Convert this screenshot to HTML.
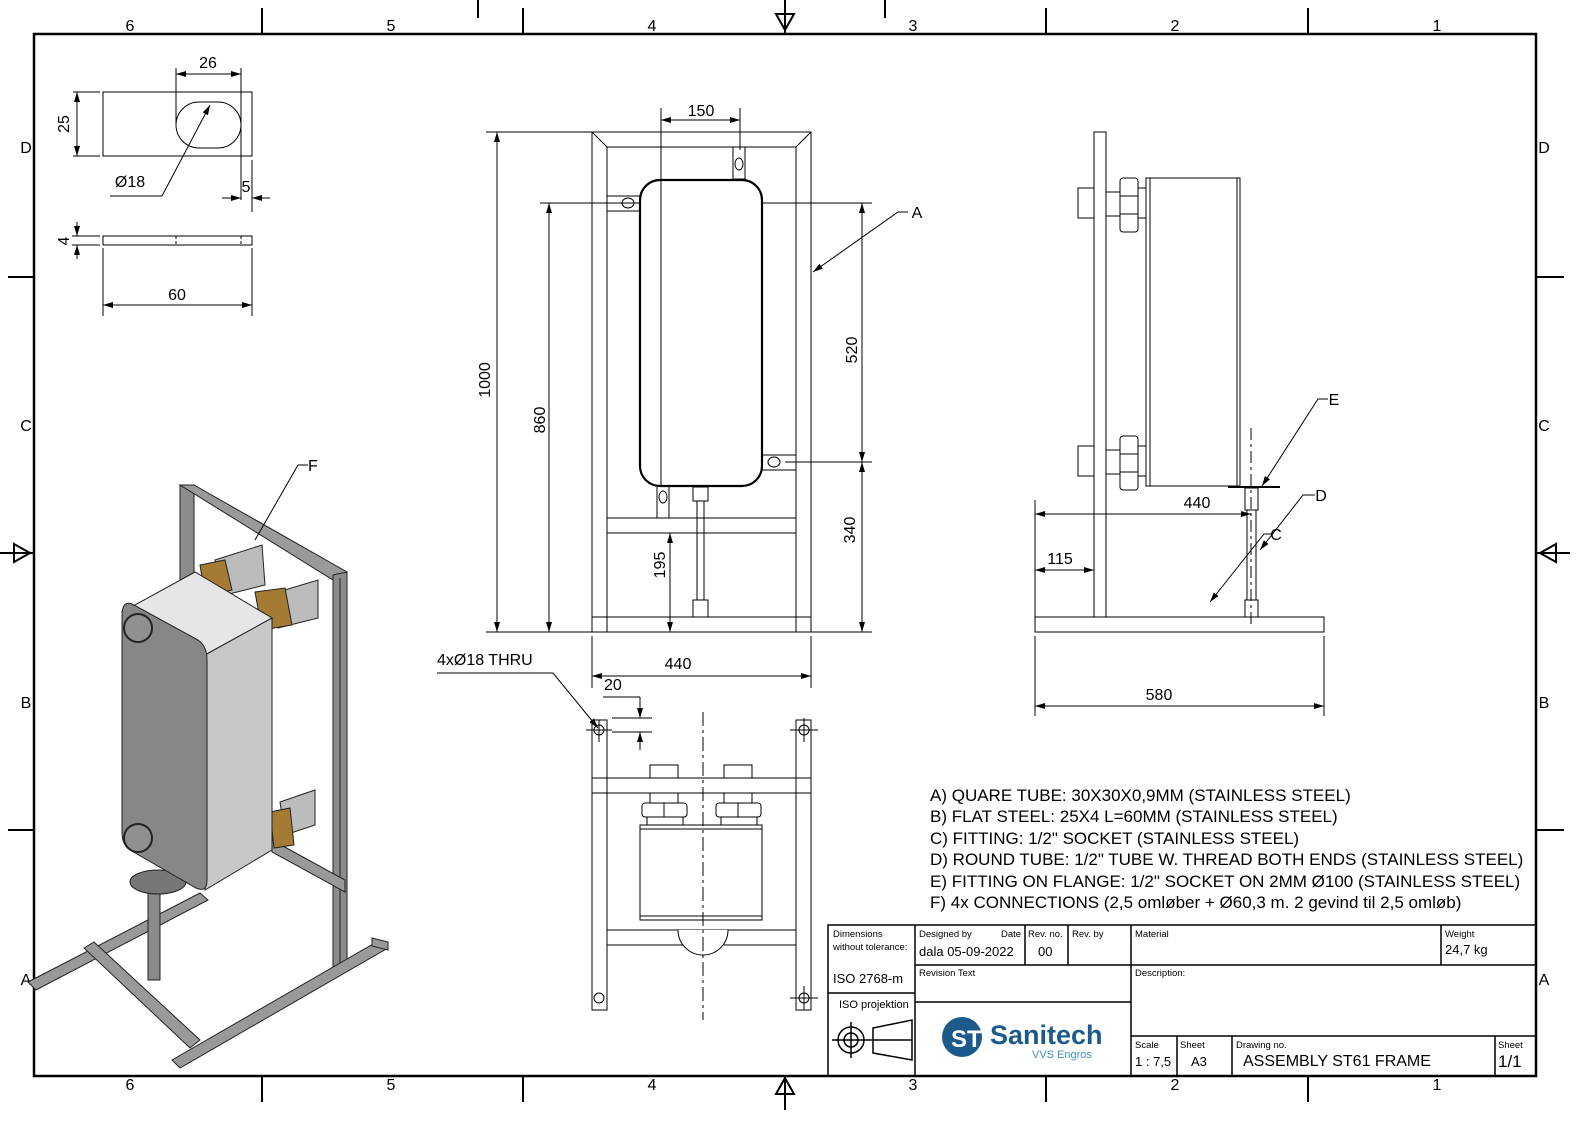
<!DOCTYPE html>
<html><head><meta charset="utf-8"><style>
html,body{margin:0;padding:0;background:#fff}
svg{display:block}
text{font-family:"Liberation Sans",sans-serif;fill:#000}
</style></head><body>
<svg width="1586" height="1122" viewBox="0 0 1586 1122" xmlns="http://www.w3.org/2000/svg">
<defs>
<marker id="ar" viewBox="0 0 10 6" refX="10" refY="3" markerWidth="10" markerHeight="6" orient="auto-start-reverse" markerUnits="userSpaceOnUse"><path d="M0,0 L10,3 L0,6z" fill="#000"/></marker>
</defs>
<rect width="1586" height="1122" fill="#fff"/>
<!-- border -->
<rect x="34" y="34" width="1502" height="1042" fill="none" stroke="#000" stroke-width="2.5"/>
<g stroke="#000" stroke-width="2">
<line x1="262" y1="8" x2="262" y2="34"/><line x1="523" y1="8" x2="523" y2="34"/><line x1="1046" y1="8" x2="1046" y2="34"/><line x1="1308" y1="8" x2="1308" y2="34"/>
<line x1="478" y1="0" x2="478" y2="18"/><line x1="885" y1="0" x2="885" y2="18"/>
<line x1="785" y1="0" x2="785" y2="34"/>
<line x1="262" y1="1076" x2="262" y2="1102"/><line x1="523" y1="1076" x2="523" y2="1102"/><line x1="1046" y1="1076" x2="1046" y2="1102"/><line x1="1308" y1="1076" x2="1308" y2="1102"/>
<line x1="785" y1="1076" x2="785" y2="1110"/>
<line x1="8" y1="277" x2="34" y2="277"/><line x1="8" y1="830" x2="34" y2="830"/><line x1="0" y1="553" x2="34" y2="553"/>
<line x1="1536" y1="277" x2="1564" y2="277"/><line x1="1536" y1="830" x2="1564" y2="830"/><line x1="1536" y1="553" x2="1570" y2="553"/>
</g>
<g fill="none" stroke="#000" stroke-width="2">
<path d="M776,14 L785,30 L794,14z"/><path d="M776,1094 L785,1078 L794,1094z"/>
<path d="M14,544 L30,553 L14,562z"/><path d="M1556,544 L1540,553 L1556,562z"/>
</g>
<g font-size="16" text-anchor="middle">
<text x="130" y="31">6</text><text x="391" y="31">5</text><text x="652" y="31">4</text><text x="913" y="31">3</text><text x="1175" y="31">2</text><text x="1437" y="31">1</text>
<text x="130" y="1090">6</text><text x="391" y="1090">5</text><text x="652" y="1090">4</text><text x="913" y="1090">3</text><text x="1175" y="1090">2</text><text x="1437" y="1090">1</text>
<text x="26" y="153">D</text><text x="26" y="431">C</text><text x="26" y="708">B</text><text x="26" y="985">A</text>
<text x="1544" y="153">D</text><text x="1544" y="431">C</text><text x="1544" y="708">B</text><text x="1544" y="985">A</text>
</g>

<!-- flat steel detail -->
<g fill="none" stroke="#000" stroke-width="1">
<rect x="103" y="92" width="149" height="64"/>
<rect x="176" y="102" width="65" height="46" rx="23"/>
<line x1="176" y1="68" x2="176" y2="124"/><line x1="241" y1="68" x2="241" y2="200"/>
<line x1="176" y1="74" x2="241" y2="74" marker-start="url(#ar)" marker-end="url(#ar)"/>
<line x1="73" y1="92" x2="100" y2="92"/><line x1="73" y1="156" x2="100" y2="156"/>
<line x1="77" y1="92" x2="77" y2="156" marker-start="url(#ar)" marker-end="url(#ar)"/>
<polyline points="110,196 162,196 210,105" marker-end="url(#ar)"/>
<line x1="252" y1="160" x2="252" y2="212"/>
<line x1="222" y1="198" x2="241" y2="198" marker-end="url(#ar)"/><line x1="270" y1="198" x2="252" y2="198" marker-end="url(#ar)"/>
<rect x="103" y="236" width="149" height="9"/>
<line x1="176" y1="236" x2="176" y2="245" stroke-dasharray="3,2"/><line x1="241" y1="236" x2="241" y2="245" stroke-dasharray="3,2"/>
<line x1="72" y1="236" x2="100" y2="236"/><line x1="72" y1="245" x2="100" y2="245"/>
<line x1="77" y1="222" x2="77" y2="236" marker-end="url(#ar)"/><line x1="77" y1="259" x2="77" y2="245" marker-end="url(#ar)"/>
<line x1="103" y1="248" x2="103" y2="316"/><line x1="252" y1="248" x2="252" y2="316"/>
<line x1="103" y1="305" x2="252" y2="305" marker-start="url(#ar)" marker-end="url(#ar)"/>
</g>
<g font-size="16" text-anchor="middle">
<text x="208" y="68">26</text><text x="130" y="187">Ø18</text><text x="246" y="192">5</text><text x="177" y="300">60</text>
<text transform="translate(69,124) rotate(-90)">25</text><text transform="translate(69,241) rotate(-90)">4</text>
</g>

<!-- front view -->
<g fill="none" stroke="#000" stroke-width="1">
<rect x="592" y="132" width="219" height="500"/>
<polyline points="607,632 607,147 796,147 796,632"/>
<line x1="592" y1="132" x2="607" y2="147"/><line x1="811" y1="132" x2="796" y2="147"/>
<line x1="592" y1="617" x2="811" y2="617"/>
<line x1="607" y1="518" x2="796" y2="518"/><line x1="607" y1="533" x2="796" y2="533"/>
<rect x="733" y="147" width="12" height="32"/><ellipse cx="739" cy="164" rx="4" ry="6"/>
<rect x="607" y="196" width="33" height="15"/><ellipse cx="628" cy="203" rx="6" ry="5"/>
<rect x="762" y="455" width="34" height="15"/><ellipse cx="774" cy="462" rx="6" ry="5"/>
<rect x="657" y="486" width="12" height="32"/><ellipse cx="663" cy="497" rx="4" ry="6"/>
<rect x="640" y="180" width="122" height="306" rx="20" stroke-width="2.2"/>
<rect x="693" y="487" width="15" height="14"/><rect x="697" y="501" width="7" height="99"/><rect x="693" y="600" width="15" height="17"/>
<!-- dims -->
<line x1="661" y1="108" x2="661" y2="486"/><line x1="740" y1="108" x2="740" y2="150"/>
<line x1="661" y1="120" x2="740" y2="120" marker-start="url(#ar)" marker-end="url(#ar)"/>
<line x1="486" y1="132" x2="592" y2="132"/><line x1="486" y1="632" x2="592" y2="632"/>
<line x1="497" y1="132" x2="497" y2="632" marker-start="url(#ar)" marker-end="url(#ar)"/>
<line x1="540" y1="203" x2="640" y2="203"/>
<line x1="549" y1="203" x2="549" y2="632" marker-start="url(#ar)" marker-end="url(#ar)"/>
<line x1="762" y1="203" x2="872" y2="203"/><line x1="785" y1="462" x2="872" y2="462"/><line x1="811" y1="632" x2="872" y2="632"/>
<line x1="862" y1="203" x2="862" y2="462" marker-start="url(#ar)" marker-end="url(#ar)"/>
<line x1="862" y1="462" x2="862" y2="632" marker-start="url(#ar)" marker-end="url(#ar)"/>
<line x1="670" y1="533" x2="670" y2="632" marker-start="url(#ar)" marker-end="url(#ar)"/>
<line x1="592" y1="636" x2="592" y2="688"/><line x1="811" y1="636" x2="811" y2="688"/>
<line x1="592" y1="676" x2="811" y2="676" marker-start="url(#ar)" marker-end="url(#ar)"/>
<polyline points="908,212 898,212 813,272" marker-end="url(#ar)"/>
</g>
<g font-size="16" text-anchor="middle">
<text x="701" y="116">150</text><text x="917" y="218">A</text><text x="678" y="669">440</text>
<text transform="translate(490,380) rotate(-90)">1000</text>
<text transform="translate(545,420) rotate(-90)">860</text>
<text transform="translate(857,350) rotate(-90)">520</text>
<text transform="translate(855,530) rotate(-90)">340</text>
<text transform="translate(665,565) rotate(-90)">195</text>
</g>

<!-- bottom view -->
<g fill="none" stroke="#000" stroke-width="1">
<polyline points="437,673 553,673 598,728" marker-end="url(#ar)"/>
<line x1="603" y1="697" x2="640" y2="697"/><line x1="640" y1="697" x2="640" y2="718" marker-end="url(#ar)"/>
<line x1="640" y1="750" x2="640" y2="732" marker-end="url(#ar)"/>
<line x1="612" y1="718" x2="652" y2="718"/><line x1="612" y1="732" x2="652" y2="732"/>
<rect x="592" y="720" width="15" height="290"/><rect x="796" y="720" width="15" height="290"/>
<circle cx="599" cy="730" r="5"/><circle cx="599" cy="998" r="5"/><circle cx="804" cy="730" r="5"/><circle cx="804" cy="998" r="5"/>
<line x1="586" y1="730" x2="612" y2="730"/><line x1="599" y1="720" x2="599" y2="742"/>
<line x1="790" y1="730" x2="818" y2="730"/><line x1="804" y1="718" x2="804" y2="742"/>
<line x1="790" y1="998" x2="818" y2="998"/><line x1="804" y1="986" x2="804" y2="1010"/>
<rect x="592" y="778" width="219" height="15"/>
<rect x="650" y="765" width="28" height="13"/><rect x="724" y="765" width="28" height="13"/>
<rect x="650" y="793" width="28" height="10"/><rect x="724" y="793" width="28" height="10"/>
<rect x="642" y="803" width="45" height="14" rx="3"/><rect x="716" y="803" width="45" height="14" rx="3"/>
<line x1="664" y1="803" x2="664" y2="817"/><line x1="738" y1="803" x2="738" y2="817"/>
<rect x="647" y="817" width="36" height="8"/><rect x="721" y="817" width="36" height="8"/>
<rect x="640" y="825" width="122" height="95"/><line x1="640" y1="829" x2="762" y2="829"/><line x1="640" y1="916" x2="762" y2="916"/>
<rect x="607" y="930" width="189" height="15"/>
<path d="M678,930 A25,25 0 1 0 728,930" fill="#fff"/>
<line x1="703" y1="712" x2="703" y2="1020" stroke-dasharray="14,4,3,4"/>
</g>
<g font-size="16"><text x="437" y="665">4xØ18 THRU</text><text x="604" y="690">20</text></g>

<!-- side view -->
<g fill="none" stroke="#000" stroke-width="1">
<rect x="1094" y="132" width="12" height="485"/>
<rect x="1035" y="617" width="289" height="15"/>
<rect x="1078" y="188" width="16" height="30"/><rect x="1078" y="446" width="16" height="30"/>
<rect x="1106" y="192" width="14" height="24"/><rect x="1106" y="450" width="14" height="24"/>
<rect x="1120" y="178" width="18" height="54" rx="3"/><rect x="1120" y="436" width="18" height="54" rx="3"/>
<line x1="1120" y1="196" x2="1138" y2="196"/><line x1="1120" y1="214" x2="1138" y2="214"/>
<line x1="1120" y1="454" x2="1138" y2="454"/><line x1="1120" y1="472" x2="1138" y2="472"/>
<rect x="1138" y="188" width="8" height="30"/><rect x="1138" y="446" width="8" height="30"/>
<rect x="1146" y="178" width="94" height="308"/><line x1="1150" y1="178" x2="1150" y2="486"/><line x1="1237" y1="178" x2="1237" y2="486"/>
<line x1="1228" y1="487" x2="1280" y2="487" stroke-width="2"/>
<rect x="1245" y="488" width="13" height="22"/><rect x="1247" y="510" width="9" height="90"/><rect x="1245" y="600" width="13" height="17"/>
<line x1="1251" y1="428" x2="1251" y2="626" stroke-dasharray="12,4,3,4"/>
<line x1="1035" y1="500" x2="1035" y2="617"/>
<line x1="1035" y1="514" x2="1251" y2="514" marker-start="url(#ar)" marker-end="url(#ar)"/>
<line x1="1035" y1="570" x2="1094" y2="570" marker-start="url(#ar)" marker-end="url(#ar)"/>
<line x1="1035" y1="636" x2="1035" y2="716"/><line x1="1324" y1="636" x2="1324" y2="716"/>
<line x1="1035" y1="706" x2="1324" y2="706" marker-start="url(#ar)" marker-end="url(#ar)"/>
<polyline points="1328,399 1318,399 1262,486" marker-end="url(#ar)"/>
<polyline points="1315,495 1303,495 1260,550" marker-end="url(#ar)"/>
<polyline points="1272,534 1264,534 1210,602" marker-end="url(#ar)"/>
</g>
<g font-size="16" text-anchor="middle">
<text x="1197" y="508">440</text><text x="1060" y="564">115</text><text x="1159" y="700">580</text>
<text x="1334" y="405">E</text><text x="1321" y="501">D</text><text x="1276" y="540">C</text>
</g>

<!-- notes -->
<g font-size="17">
<text x="930" y="801">A) QUARE TUBE: 30X30X0,9MM (STAINLESS STEEL)</text>
<text x="930" y="822">B) FLAT STEEL: 25X4 L=60MM (STAINLESS STEEL)</text>
<text x="930" y="844">C) FITTING: 1/2" SOCKET (STAINLESS STEEL)</text>
<text x="930" y="865">D) ROUND TUBE: 1/2" TUBE W. THREAD BOTH ENDS (STAINLESS STEEL)</text>
<text x="930" y="887">E) FITTING ON FLANGE: 1/2" SOCKET ON 2MM Ø100 (STAINLESS STEEL)</text>
<text x="930" y="908">F) 4x CONNECTIONS (2,5 omløber + Ø60,3 m. 2 gevind til 2,5 omløb)</text>
</g>

<!-- title block -->
<g fill="none" stroke="#000" stroke-width="1.5">
<rect x="828" y="925" width="708" height="151"/>
<line x1="915" y1="925" x2="915" y2="1076"/>
<line x1="1131" y1="925" x2="1131" y2="1076"/>
<line x1="1025" y1="925" x2="1025" y2="965"/><line x1="1068" y1="925" x2="1068" y2="965"/>
<line x1="1441" y1="925" x2="1441" y2="965"/>
<line x1="915" y1="965" x2="1536" y2="965"/>
<line x1="828" y1="993" x2="915" y2="993"/>
<line x1="915" y1="1002" x2="1131" y2="1002"/>
<line x1="1131" y1="1036" x2="1536" y2="1036"/>
<line x1="1177" y1="1036" x2="1177" y2="1076"/><line x1="1232" y1="1036" x2="1232" y2="1076"/><line x1="1495" y1="1036" x2="1495" y2="1076"/>
</g>
<g font-size="9.5">
<text x="833" y="937">Dimensions</text><text x="833" y="950">without tolerance:</text>
<text x="919" y="937">Designed by</text><text x="1001" y="937">Date</text><text x="1028" y="937">Rev. no.</text><text x="1072" y="937">Rev. by</text>
<text x="1135" y="937">Material</text><text x="1445" y="937">Weight</text>
<text x="919" y="976">Revision Text</text><text x="1135" y="976">Description:</text>
<text x="1135" y="1048">Scale</text><text x="1180" y="1048">Sheet</text><text x="1236" y="1048">Drawing no.</text><text x="1498" y="1048">Sheet</text>
</g>
<g font-size="13">
<text x="919" y="956">dala  05-09-2022</text><text x="1038" y="956">00</text><text x="1445" y="954">24,7 kg</text>
<text x="833" y="983">ISO 2768-m</text>
<text x="1135" y="1066">1 : 7,5</text><text x="1191" y="1066">A3</text>
</g>
<text x="839" y="1008" font-size="11">ISO projektion</text>
<text x="1243" y="1066" font-size="16">ASSEMBLY ST61 FRAME</text>
<text x="1498" y="1067" font-size="17">1/1</text>
<g fill="none" stroke="#000" stroke-width="1.5">
<circle cx="851" cy="1040" r="13"/><circle cx="851" cy="1040" r="7"/>
<line x1="832" y1="1040" x2="912" y2="1040"/><line x1="851" y1="1022" x2="851" y2="1058"/>
<path d="M873,1028 L912,1020 L912,1060 L873,1053z"/>
</g>
<circle cx="962" cy="1037" r="20" fill="#1d5a8c"/>
<text x="951" y="1047" font-size="24" font-weight="bold" fill="#fff" style="fill:#fff">ST</text>
<text x="990" y="1044" font-size="27" font-weight="bold" style="fill:#1d5a8c">Sanitech</text>
<text x="1032" y="1058" font-size="11" style="fill:#3d8fd0">VVS Engros</text>

<!-- isometric -->
<g stroke="#222" stroke-width="1">
<polygon points="180,485 194,485 194,720 180,720" fill="#8c8c8c"/>
<polygon points="180,485 194,485 347,572 333,580" fill="#9a9a9a"/>
<polygon points="333,575 347,572 347,968 333,972" fill="#8c8c8c"/>
<line x1="340" y1="578" x2="340" y2="970"/>
<polygon points="28,982 200,893 208,900 36,990" fill="#999"/>
<polygon points="84,948 94,942 200,1040 190,1048" fill="#999"/>
<polygon points="172,1060 380,940 388,948 180,1068" fill="#999"/>
<polygon points="272,840 345,880 345,892 272,852" fill="#999"/>
<rect x="148" y="885" width="12" height="95" fill="#8a8a8a"/>
<ellipse cx="158" cy="882" rx="28" ry="12" fill="#777"/>
<polygon points="215,560 262,545 265,585 225,595" fill="#bcbcbc"/>
<polygon points="268,595 318,580 318,618 278,628" fill="#bcbcbc"/>
<polygon points="280,802 315,790 315,825 285,835" fill="#bcbcbc"/>
<polygon points="200,565 225,560 232,590 205,596" fill="#a37b32"/>
<polygon points="255,592 285,588 292,625 262,630" fill="#a37b32"/>
<polygon points="270,812 290,808 294,845 274,848" fill="#a37b32"/>
<polygon points="122,612 195,572 272,618 205,655" fill="#e6e6e6"/>
<path d="M205,655 L272,618 L272,850 L205,890 Z" fill="#c8c8c8"/>
<path d="M132,604 L198,640 Q207,646 207,660 L207,880 Q207,893 196,888 L130,850 Q122,845 122,832 L122,616 Q122,600 132,604 Z" fill="#878787"/>
<circle cx="138" cy="628" r="14" fill="#909090" stroke-width="2"/>
<circle cx="138" cy="838" r="14" fill="#909090" stroke-width="2"/>
<polygon points="372,938 388,942 388,950 372,946" fill="#999"/>
</g>
<g fill="none" stroke="#000" stroke-width="1">
<polyline points="308,465 298,465 255,540"/>
</g>
<text x="308" y="471" font-size="16">F</text>
</svg>
</body></html>
